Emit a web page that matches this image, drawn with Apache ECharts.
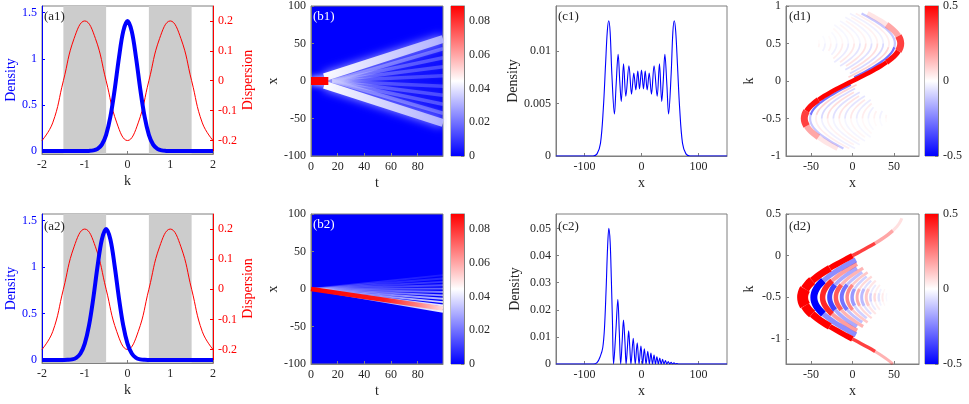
<!DOCTYPE html>
<html lang="en">
  <head>
    <meta charset="UTF-8" />
    <title>Wave packet spreading</title>
    <script src="https://cdn.jsdelivr.net/npm/echarts@6.0.0/dist/echarts.min.js"></script>
    <style>
      html, body { margin: 0; padding: 0; background: #fff; }
    </style>
  </head>
  <body>
    <div id="main" style="width: 969px; height: 404px"></div>
    <script type="text/javascript">
      // ---------- values ----------

      // (a) momentum density (blue) and dispersion (red)
      const kGrid = [-2, -1.9, -1.8, -1.7, -1.6, -1.5, -1.4, -1.3, -1.2, -1.1, -1, -0.9, -0.8, -0.7, -0.6, -0.5, -0.4, -0.3, -0.2, -0.1, 0,
        0.1, 0.2, 0.3, 0.4, 0.5, 0.6, 0.7, 0.8, 0.9, 1, 1.1, 1.2, 1.3, 1.4, 1.5, 1.6, 1.7, 1.8, 1.9, 2];
      const densA1 = [0, 0, 0, 0, 0, 0, 0, 0, 0, 0, 0.0003, 0.0017, 0.007, 0.024, 0.07, 0.176, 0.372, 0.666, 1.011, 1.297, 1.41,
        1.297, 1.011, 0.666, 0.372, 0.176, 0.07, 0.024, 0.007, 0.0017, 0.0003, 0, 0, 0, 0, 0, 0, 0, 0, 0, 0];
      const densA2 = [0, 0, 0, 0, 0, 0.0003, 0.0017, 0.007, 0.024, 0.07, 0.176, 0.372, 0.666, 1.011, 1.297, 1.41, 1.297, 1.011, 0.666, 0.372, 0.176,
        0.07, 0.024, 0.007, 0.0017, 0.0003, 0, 0, 0, 0, 0, 0, 0, 0, 0, 0, 0, 0, 0, 0, 0];
      const dispK = [-2, -1.75, -1.5, -1.25, -1, -0.75, -0.5, -0.25, 0, 0.25, 0.5, 0.75, 1, 1.25, 1.5, 1.75, 2];
      const dispVal = [-0.2, -0.141, 0, 0.141, 0.2, 0.141, 0, -0.141, -0.2, -0.141, 0, 0.141, 0.2, 0.141, 0, -0.141, -0.2];
      const shadeBands = [[-1.5, -0.5], [0.5, 1.5]];

      // (b) space-time intensity, traced as rays (t, x)
      const tEnd = 99;
      const b1CoreT = [0, 13];
      const b1BeamStartT = 10;
      const b1BeamStartX = [5, -5];
      const b1BeamEndX = [56, -56];
      const b1RayStartT = 16;
      const b1RayEndX = [43, 31, 19, 7, -7, -19, -31, -43];
      const b2MainEndX = -26;
      const b2EdgeEndX = -30;
      const b2FringeEndX = [-22, -17.5, -13, -8.5, -4, 0.5, 5, 9.5, 14, 18.5];
      const bColorMax = 0.089;

      // (c) density at the final time
      const c1X = [-150, -85, -78, -72, -67, -63, -60, -57.5, -55, -52, -47.5, -44.5, -41, -38, -35.5, -31.5, -27.5, -22, -17.5, -13.5,
        -10, -6.5, -3.5, 0, 3.5, 6.5, 10, 13.5, 17.5, 22, 27.5, 31.5, 35.5, 38, 41, 44.5, 47.5, 52, 55, 57.5, 60, 63, 67, 72, 78, 85, 150];
      const c1Y = [0, 0, 0.0002, 0.0012, 0.0045, 0.0088, 0.0119, 0.0129, 0.0118, 0.0078, 0.004, 0.0068, 0.0097, 0.007, 0.0052, 0.0088, 0.0057, 0.0086, 0.0059, 0.0079,
        0.0063, 0.0081, 0.0064, 0.0082, 0.0064, 0.0081, 0.0063, 0.0079, 0.0059, 0.0086, 0.0057, 0.0088, 0.0052, 0.007, 0.0097, 0.0068, 0.004, 0.0078, 0.0118, 0.0129, 0.0119, 0.0088, 0.0045, 0.0012, 0.0002, 0, 0];
      const c2X = [-150, -85, -78, -72, -68, -65, -62, -59.5, -57.3, -55, -53, -51, -49, -45, -41.5, -39, -36.5, -34, -31.6, -29, -27, -24.7, -22.5, -20.5, -18.5,
        -14.5, -11, -7.5, -4.3, -1, 2, 5, 8, 11, 13.8, 16.5, 19.3, 22, 24.5, 27, 29.5, 32, 34.5, 37, 39.5, 42, 44.5, 47, 49.5, 52, 54.5, 57, 59.5, 62, 65, 150];
      const c2Y = [0, 0, 0.0005, 0.003, 0.006, 0.013, 0.028, 0.043, 0.05, 0.045, 0.032, 0.016, 0, 0.012, 0.0238, 0.012, 0, 0.008, 0.0162, 0.008, 0, 0.0061, 0.0122, 0.006, 0,
        0.0095, 0, 0.0078, 0, 0.0066, 0, 0.0056, 0, 0.0047, 0, 0.004, 0, 0.0033, 0, 0.0027, 0, 0.0022, 0, 0.0017, 0, 0.0013, 0, 0.0009, 0, 0.0006, 0, 0.0004, 0, 0.0002, 0, 0];

      // (d) phase-space ridge (x at each k) and fringe offsets from it
      const d1K = [-0.9, -0.85, -0.8, -0.75, -0.7, -0.65, -0.6, -0.55, -0.5, -0.45, -0.4, -0.35, -0.3, -0.25, -0.2, -0.15, -0.1, -0.05, 0,
        0.05, 0.1, 0.15, 0.2, 0.25, 0.3, 0.35, 0.4, 0.45, 0.5, 0.55, 0.6, 0.65, 0.7, 0.75, 0.8, 0.85, 0.9];
      const d1X = [-17.9, -26.3, -34.1, -41, -46.9, -51.7, -55.2, -57.3, -58, -57.3, -55.2, -51.7, -46.9, -41, -34.1, -26.3, -17.9, -9.1, 0,
        9.1, 17.9, 26.3, 34.1, 41, 46.9, 51.7, 55.2, 57.3, 58, 57.3, 55.2, 51.7, 46.9, 41, 34.1, 26.3, 17.9];
      const d1FringeShift = [7, 14, 21, 28, 35, 42, 49, 56, 63, 70, 77, 84, 91, 98];
      const d1FringeHalfK = [0.47, 0.45, 0.42, 0.396, 0.37, 0.342, 0.314, 0.284, 0.253, 0.22, 0.187, 0.145, 0.1, 0.05];
      const d2K = [-1.3, -1.25, -1.2, -1.15, -1.1, -1.05, -1, -0.95, -0.9, -0.85, -0.8, -0.75, -0.7, -0.65, -0.6, -0.55, -0.5, -0.45, -0.4,
        -0.35, -0.3, -0.25, -0.2, -0.15, -0.1, -0.05, 0, 0.05, 0.1, 0.15, 0.2, 0.25, 0.3, 0.35, 0.4, 0.45];
      const d2X = [48.5, 42.4, 35.3, 27.2, 18.5, 9.4, 0, -9.4, -18.5, -27.2, -35.3, -42.4, -48.5, -53.5, -57.1, -59.3, -60, -59.3, -57.1,
        -53.5, -48.5, -42.4, -35.3, -27.2, -18.5, -9.4, 0, 9.4, 18.5, 27.2, 35.3, 42.4, 48.5, 53.5, 57.1, 59.3];
      const d2FringeShift = [13.5, 24, 32.5, 40, 47, 53.5, 59.5, 65.5, 71, 76.5, 81.5, 86.5, 91.5, 96, 100.5];
      const d2FringeHalfK = [0.46, 0.42, 0.39, 0.36, 0.335, 0.31, 0.285, 0.26, 0.235, 0.21, 0.185, 0.16, 0.135, 0.105, 0.075];

      // tick labels
      const kTicks = [-2, -1, 0, 1, 2];
      const densTicks = [0, 0.5, 1, 1.5];
      const dispTicks = [-0.2, -0.1, 0, 0.1, 0.2];
      const tTicks = [0, 20, 40, 60, 80];
      const xTicksB = [-100, -50, 0, 50, 100];
      const cbTicksB = [0, 0.02, 0.04, 0.06, 0.08];
      const xTicksC = [-100, 0, 100];
      const c1Ticks = [0, 0.005, 0.01];
      const c2Ticks = [0, 0.01, 0.02, 0.03, 0.04, 0.05];
      const xTicksD = [-50, 0, 50];
      const d1Ticks = [-1, -0.5, 0, 0.5, 1];
      const d2Ticks = [-1, -0.5, 0, 0.5];
      const cbTicksD = [-0.5, 0, 0.5];

      // ---------- styles ----------
      const FONT = "Liberation Serif";
      const INK = "#262626";
      const BOX = "#7f7f7f";
      const BLUE = "#0000ff";
      const RED = "#ff0000";
      const B1_RAY_ALPHA = [0.5, 0.42, 0.38, 0.34, 0.34, 0.38, 0.42, 0.5];
      const B2_FRINGE_ALPHA = [0.95, 0.85, 0.75, 0.62, 0.5, 0.4, 0.3, 0.22, 0.15, 0.1];
      const D1_FRINGE_ALPHA = [0.55, 0.17, 0.15, 0.13, 0.12, 0.11, 0.1, 0.09, 0.08, 0.07, 0.06, 0.05, 0.05, 0.04];
      const D2_FRINGE_ALPHA = [1, 0.85, 0.75, 0.65, 0.55, 0.47, 0.4, 0.33, 0.27, 0.22, 0.18, 0.14, 0.11, 0.08, 0.06];
      const D2_FRINGE_WIDTH = [7, 5.5, 5, 4.5, 4, 3.5, 3.5, 3, 3, 3, 2.5, 2.5, 2.5, 2, 2];

      let myChart = echarts.init(document.getElementById("main"));

      const grids = [];
      const xAxes = [];
      const yAxes = [];
      const series = [];

      function rgba(rgb, a) {
        return "rgba(" + rgb + "," + a + ")";
      }
      function hGrad(stops) {
        return { type: "linear", x: 0, y: 0, x2: 1, y2: 0, colorStops: stops.map((s) => ({ offset: s[0], color: s[1] })) };
      }
      function vGrad(stops) {
        return { type: "linear", x: 0, y: 0, x2: 0, y2: 1, colorStops: stops.map((s) => ({ offset: s[0], color: s[1] })) };
      }

      function addGrid(left, top, width, height, bg) {
        grids.push({ left, top, width, height, show: true, backgroundColor: bg || "transparent", borderColor: BOX, borderWidth: 1 });
        return grids.length - 1;
      }

      function addAxis(list, gi, o) {
        list.push({
          type: "value", gridIndex: gi, min: o.min, max: o.max, position: o.pos,
          name: o.name || "", nameLocation: "middle", nameGap: o.gap || 0, nameRotate: o.rot,
          nameTextStyle: { fontFamily: FONT, fontSize: 14, color: o.color || INK },
          axisLine: { show: true, onZero: false, lineStyle: { color: o.line || BOX, width: 1 } },
          axisTick: { show: true, inside: true, length: 3, customValues: o.ticks, lineStyle: { color: o.line || BOX, width: 1 } },
          axisLabel: { show: true, customValues: o.ticks, margin: 5, fontFamily: FONT, fontSize: 12, color: o.color || INK },
          splitLine: { show: false },
        });
        return list.length - 1;
      }

      function addLine(xi, yi, pts, style, extra) {
        if (pts.length < 2) return;
        series.push(Object.assign({ type: "line", xAxisIndex: xi, yAxisIndex: yi, data: pts, symbol: "none", silent: true, lineStyle: style }, extra || {}));
      }

      // points of a ridge between two k values, moved sideways by shift
      function ridgePts(K, X, lo, hi, shift) {
        const pts = [];
        K.forEach((k, i) => {
          if (k >= lo - 1e-6 && k <= hi + 1e-6) pts.push([X[i] + shift, k]);
        });
        return pts;
      }

      // draw a ridge piecewise, each piece [kLo, kHi, alpha, width]
      function ridgePieces(xi, yi, K, X, pieces) {
        pieces.forEach((p) => {
          addLine(xi, yi, ridgePts(K, X, p[0], p[1], 0), { color: rgba("255,0,0", p[2]), width: p[3] }, { smooth: 0.4 });
        });
      }

      // split a point list into ends and middle sharing their joints
      function splitEnds(pts) {
        const n = pts.length;
        const q = Math.max(1, Math.round(n / 4));
        return [pts.slice(0, q + 1), pts.slice(q, n - q), pts.slice(n - q - 1)];
      }

      // ---------- (a) panels ----------
      function buildA(top, height, dens) {
        const gi = addGrid(42, top, 171, height);
        const xi = addAxis(xAxes, gi, { min: -2, max: 2, ticks: kTicks, name: "k", gap: 20 });
        const yl = addAxis(yAxes, gi, { min: -0.032, max: 1.572, ticks: densTicks, name: "Density", gap: 23, rot: 90, color: BLUE, line: BLUE, pos: "left" });
        const yr = addAxis(yAxes, gi, { min: -0.245, max: 0.25, ticks: dispTicks, name: "Dispersion", gap: 26, rot: 90, color: RED, line: RED, pos: "right" });
        addLine(xi, yr, dispK.map((k, i) => [k, dispVal[i]]), { color: RED, width: 1 }, {
          smooth: 0.45, z: 3,
          markArea: { silent: true, itemStyle: { color: "#cccccc" }, data: shadeBands.map((b) => [{ xAxis: b[0] }, { xAxis: b[1] }]) },
        });
        addLine(xi, yl, kGrid.map((k, i) => [k, dens[i]]), { color: BLUE, width: 4 }, { smooth: 0.35, z: 4 });
      }

      // ---------- (b) panels ----------
      function buildB(top, draw) {
        const gi = addGrid(311, top, 132, 150, BLUE);
        const xi = addAxis(xAxes, gi, { min: 0, max: tEnd, ticks: tTicks, name: "t", gap: 20 });
        const yi = addAxis(yAxes, gi, { min: -100, max: 100, ticks: xTicksB, name: "x", gap: 30, rot: 90, pos: "left" });
        draw(xi, yi);
        const cg = addGrid(451, top, 13, 150);
        xAxes.push({ type: "category", gridIndex: cg, data: ["c"], show: false });
        const cx = xAxes.length - 1;
        const cy = addAxis(yAxes, cg, { min: 0, max: bColorMax, ticks: cbTicksB, pos: "right" });
        series.push({
          type: "bar", xAxisIndex: cx, yAxisIndex: cy, data: [bColorMax], barWidth: "100%", silent: true,
          itemStyle: { color: vGrad([[0, RED], [0.5, "#ffffff"], [1, BLUE]]) },
        });
      }

      function drawB1(xi, yi) {
        b1RayEndX.forEach((x1, i) => {
          addLine(xi, yi, [[b1RayStartT, 0], [tEnd, x1]], {
            color: hGrad([[0, rgba("210,210,255", B1_RAY_ALPHA[i])], [1, rgba("160,160,255", B1_RAY_ALPHA[i])]]),
            width: 3.5, shadowBlur: 5, shadowColor: rgba("170,170,255", 0.7),
          });
        });
        b1BeamEndX.forEach((x1, i) => {
          addLine(xi, yi, [[b1BeamStartT, b1BeamStartX[i]], [tEnd, x1]], {
            color: hGrad([[0, "#ffffff"], [0.3, "rgba(236,236,255,0.95)"], [1, "rgba(190,190,255,0.85)"]]),
            width: 8, shadowBlur: 10, shadowColor: "rgba(200,200,255,0.9)",
          });
        });
        addLine(xi, yi, b1CoreT.map((t) => [t, 0]), { color: RED, width: 8, shadowBlur: 6, shadowColor: "rgba(255,255,255,0.95)" });
      }

      function drawB2(xi, yi) {
        b2FringeEndX.forEach((x1, i) => {
          addLine(xi, yi, [[0, 0], [tEnd, x1]], {
            color: hGrad([[0, rgba("255,255,255", 0.2)], [1, rgba("255,255,255", B2_FRINGE_ALPHA[i])]]),
            width: 1.8,
          });
        });
        addLine(xi, yi, [[0, 0], [tEnd, b2EdgeEndX]], { color: hGrad([[0, "rgba(255,255,255,0.4)"], [1, "rgba(255,255,255,0.95)"]]), width: 2.5 });
        addLine(xi, yi, [[0, 0], [tEnd, b2MainEndX]], {
          color: hGrad([[0, RED], [0.55, "#ff1a1a"], [0.8, "#ff8080"], [1, "#ffe6e6"]]), width: 4.5,
        });
      }

      // ---------- (c) panels ----------
      function buildC(top, X, Y, yMax, ticks) {
        const gi = addGrid(556, top, 171, 150);
        const xi = addAxis(xAxes, gi, { min: -150, max: 150, ticks: xTicksC, name: "x", gap: 20 });
        const yi = addAxis(yAxes, gi, { min: 0, max: yMax, ticks: ticks, name: "Density", gap: 34, rot: 90, pos: "left" });
        addLine(xi, yi, X.map((x, i) => [x, Y[i]]), { color: BLUE, width: 1.1 }, { smooth: 0.35 });
      }

      // ---------- (d) panels ----------
      function buildD(top, yMin, yMax, ticks, draw) {
        const gi = addGrid(786, top, 133, 150);
        const xi = addAxis(xAxes, gi, { min: -80, max: 80, ticks: xTicksD, name: "x", gap: 20 });
        const yi = addAxis(yAxes, gi, { min: yMin, max: yMax, ticks: ticks, name: "k", gap: 30, rot: 90, pos: "left" });
        draw(xi, yi);
        const cg = addGrid(925, top, 13, 150);
        xAxes.push({ type: "category", gridIndex: cg, data: ["c"], show: false });
        const cx = xAxes.length - 1;
        const cy = addAxis(yAxes, cg, { min: -0.5, max: 0.5, ticks: cbTicksD, pos: "right" });
        series.push({
          type: "bar", xAxisIndex: cx, yAxisIndex: cy, data: [0.5], barWidth: "100%", barGap: "-100%", silent: true,
          itemStyle: { color: vGrad([[0, RED], [1, "#ffffff"]]) },
        });
        series.push({
          type: "bar", xAxisIndex: cx, yAxisIndex: cy, data: [-0.5], barWidth: "100%", barGap: "-100%", silent: true,
          itemStyle: { color: vGrad([[0, "#ffffff"], [1, BLUE]]) },
        });
      }

      function drawD1(xi, yi) {
        d1FringeShift.forEach((s, i) => {
          const h = d1FringeHalfK[i];
          const col = i % 2 === 0 ? "0,0,255" : "255,0,0";
          const a = D1_FRINGE_ALPHA[i];
          const w = i === 0 ? 2.2 : 1.8;
          // upper fold: stronger near the centre, faint towards the top
          const up = ridgePts(d1K, d1X, 0.5 - h, 0.5 + h, -s);
          const upMid = Math.ceil(up.length / 2);
          addLine(xi, yi, up.slice(0, upMid), { color: rgba(col, a), width: w }, { smooth: 0.4 });
          addLine(xi, yi, up.slice(upMid - 1), { color: rgba(col, a * 0.4), width: w }, { smooth: 0.4 });
          // lower fold, mirrored
          const dn = ridgePts(d1K, d1X, -0.5 - h, -0.5 + h, s);
          const dnMid = Math.floor(dn.length / 2);
          addLine(xi, yi, dn.slice(0, dnMid + 1), { color: rgba(col, a * 0.4), width: w }, { smooth: 0.4 });
          addLine(xi, yi, dn.slice(dnMid), { color: rgba(col, a), width: w }, { smooth: 0.4 });
        });
        ridgePieces(xi, yi, d1K, d1X, [
          [-0.9, -0.75, 0.1, 5], [-0.75, -0.6, 0.35, 6], [-0.6, -0.4, 0.75, 7], [-0.4, -0.25, 0.95, 5.5],
          [-0.25, 0.25, 1, 4.5],
          [0.25, 0.4, 0.95, 5.5], [0.4, 0.6, 0.75, 7], [0.6, 0.75, 0.35, 6], [0.75, 0.9, 0.1, 5],
        ]);
      }

      function drawD2(xi, yi) {
        d2FringeShift.forEach((s, i) => {
          const h = d2FringeHalfK[i];
          const col = i % 2 === 0 ? "0,0,255" : "255,0,0";
          const a = D2_FRINGE_ALPHA[i];
          const w = D2_FRINGE_WIDTH[i];
          const parts = splitEnds(ridgePts(d2K, d2X, -0.5 - h, -0.5 + h, s));
          addLine(xi, yi, parts[0], { color: rgba(col, a * 0.45), width: w * 0.75 }, { smooth: 0.4 });
          addLine(xi, yi, parts[1], { color: rgba(col, a), width: w }, { smooth: 0.4 });
          addLine(xi, yi, parts[2], { color: rgba(col, a * 0.45), width: w * 0.75 }, { smooth: 0.4 });
        });
        ridgePieces(xi, yi, d2K, d2X, [
          [0.3, 0.45, 0.12, 3], [0.15, 0.3, 0.35, 3.5], [0, 0.15, 0.75, 3.5],
          [-1.15, -1, 0.75, 3.5], [-1.3, -1.15, 0.3, 3],
          [-1, -0.85, 1, 5.5], [-0.15, 0, 1, 5.5],
          [-0.85, -0.7, 1, 7], [-0.3, -0.15, 1, 7],
          [-0.7, -0.6, 1, 9], [-0.4, -0.3, 1, 9],
          [-0.6, -0.4, 1, 11],
        ]);
      }

      buildA(6, 148, densA1);
      buildA(214, 149, densA2);
      buildB(6, drawB1);
      buildB(214, drawB2);
      buildC(6, c1X, c1Y, 0.0143, c1Ticks);
      buildC(214, c2X, c2Y, 0.0553, c2Ticks);
      buildD(6, -1, 1, d1Ticks, drawD1);
      buildD(214, -1.3, 0.5, d2Ticks, drawD2);

      const tags = [
        ["(a1)", 44, 10, INK], ["(a2)", 44, 220, INK],
        ["(b1)", 313, 10, "#ffffff"], ["(b2)", 313, 218, "#ffffff"],
        ["(c1)", 558, 10, INK], ["(c2)", 558, 220, INK],
        ["(d1)", 789, 10, INK], ["(d2)", 789, 220, INK],
      ];

      let options = {
        animation: false,
        backgroundColor: "#ffffff",
        textStyle: { fontFamily: FONT },
        grid: grids,
        xAxis: xAxes,
        yAxis: yAxes,
        series: series,
        graphic: tags.map((t) => ({
          type: "text", left: t[1], top: t[2], z: 100,
          style: { text: t[0], fontFamily: FONT, fontSize: 13, fill: t[3] },
        })),
      };

      myChart.setOption(options);
    </script>
  </body>
</html>
